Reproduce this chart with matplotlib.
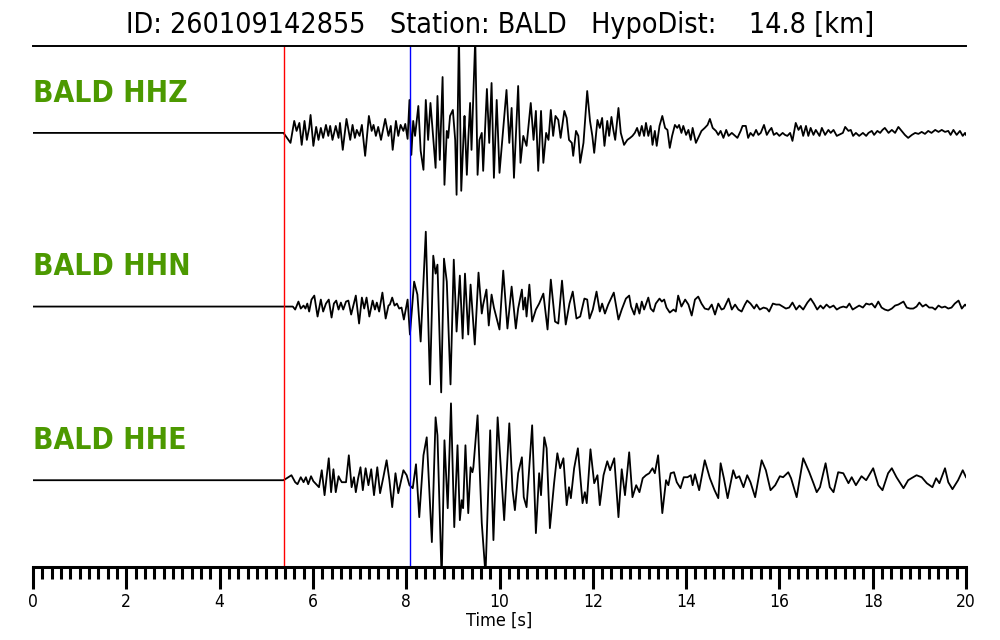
import matplotlib.pyplot as plt
import numpy as np
from matplotlib.ticker import MultipleLocator

# event info
event_id = '260109142855'
station = 'BALD'
hypo_dist = 14.8
channels = ['HHZ', 'HHN', 'HHE']
p_pick = 5.38  # s
s_pick = 8.09  # s

# traces: (time [s], amplitude [counts])
hhz = [(0.00, 0), (5.37, 0), (5.52, -10), (5.60, 12), (5.65, 2), (5.71, 10), (5.76, -12), (5.82, 12),
       (5.87, -7), (5.92, 5), (5.95, 18), (6.01, -13), (6.07, 6), (6.12, -7), (6.17, 5), (6.22, -5),
       (6.28, 8), (6.33, -3), (6.37, 7), (6.42, -7), (6.49, 7), (6.55, -5), (6.58, 10), (6.64, -17),
       (6.72, 14), (6.80, -7), (6.85, 8), (6.90, -5), (6.94, 3), (7.00, -3), (7.05, 8), (7.12, -23),
       (7.20, 17), (7.26, 2), (7.30, 8), (7.35, -3), (7.40, 6), (7.46, -7), (7.55, 14), (7.62, -3),
       (7.67, 7), (7.71, -17), (7.78, 12), (7.83, -3), (7.88, 8), (7.94, 2), (7.98, 9), (8.03, -6),
       (8.07, 33), (8.11, -22), (8.15, 12), (8.19, -3), (8.26, 27), (8.31, -18), (8.37, -37), (8.42, 33),
       (8.47, -7), (8.52, 30), (8.58, -5), (8.63, -35), (8.67, 37), (8.72, -27), (8.78, 56), (8.82, -52),
       (8.87, 2), (8.90, -5), (8.94, 17), (9.00, 23), (9.05, -7), (9.08, -62), (9.13, 100), (9.18, -58),
       (9.23, -2), (9.25, 17), (9.30, -42), (9.33, -7), (9.37, 30), (9.40, -17), (9.48, 95), (9.53, -42),
       (9.57, -7), (9.62, 0), (9.65, -38), (9.73, 44), (9.78, -10), (9.83, 50), (9.88, -45), (9.94, 33),
       (10.00, -40), (10.15, 43), (10.21, -10), (10.26, 25), (10.31, -45), (10.40, 47), (10.45, -30),
       (10.51, -3), (10.58, -13), (10.67, 30), (10.73, -7), (10.78, 22), (10.83, -38), (10.89, 22),
       (10.94, -30), (11.00, 0), (11.05, -7), (11.10, 23), (11.15, -3), (11.20, 17), (11.26, 13),
       (11.31, -5), (11.39, 22), (11.44, 15), (11.49, -7), (11.55, -10), (11.58, -23), (11.64, 2),
       (11.69, -3), (11.73, -30), (11.80, -10), (11.88, 42), (11.94, 12), (11.99, -3), (12.03, -20),
       (12.10, 13), (12.15, 5), (12.20, 15), (12.25, -13), (12.31, 12), (12.35, -3), (12.40, 16),
       (12.44, 3), (12.48, -7), (12.55, 25), (12.60, 0), (12.67, -12), (12.74, -7), (12.80, -5),
       (12.85, -3), (12.90, 0), (12.95, 5), (13.00, -3), (13.05, 7), (13.10, -3), (13.14, 10),
       (13.19, -3), (13.24, 7), (13.28, -12), (13.33, 2), (13.37, -13), (13.43, 7), (13.49, 17),
       (13.55, 5), (13.60, 3), (13.65, -15), (13.70, -3), (13.76, 8), (13.81, 5), (13.85, 8), (13.90, 0),
       (13.94, 7), (14.00, -2), (14.05, 3), (14.10, -7), (14.14, 5), (14.21, -10), (14.26, -5),
       (14.33, 2), (14.40, 5), (14.46, 8), (14.51, 14), (14.57, 5), (14.64, 2), (14.69, -2), (14.74, 2),
       (14.80, -5), (14.86, 3), (14.91, -3), (14.98, 0), (15.05, -3), (15.10, -5), (15.17, 2),
       (15.21, 7), (15.28, 7), (15.33, -5), (15.38, 0), (15.44, -3), (15.50, 3), (15.55, -2), (15.60, 0),
       (15.67, 8), (15.73, -2), (15.78, 2), (15.83, 5), (15.88, -2), (15.94, 0), (16.00, -3), (16.07, 0),
       (16.12, -2), (16.17, -3), (16.23, 0), (16.28, -8), (16.35, 10), (16.41, 3), (16.46, 7),
       (16.51, -3), (16.57, 7), (16.62, -3), (16.67, 5), (16.73, -2), (16.78, 3), (16.86, -3),
       (16.91, 5), (16.98, -2), (17.05, 3), (17.10, 0), (17.16, 3), (17.23, -3), (17.36, 0), (17.41, 6),
       (17.48, 2), (17.53, 3), (17.58, -3), (17.64, 0), (17.71, -3), (17.79, 0), (17.86, -3), (17.91, 0),
       (17.98, 2), (18.03, -2), (18.10, 2), (18.16, 0), (18.21, 3), (18.26, 5), (18.34, 0), (18.41, 3),
       (18.48, 0), (18.55, 6), (18.62, 2), (18.69, -2), (18.76, -5), (18.84, -2), (18.91, 0),
       (18.98, -1), (19.05, 1), (19.12, -1), (19.19, 2), (19.26, 0), (19.34, 3), (19.41, 1), (19.48, 3),
       (19.55, 1), (19.62, 2), (19.67, -2), (19.73, 3), (19.80, -2), (19.87, 2), (19.93, -3), (19.98, 0),
       (20.00, -2)]

hhn = [(0.00, 0), (5.57, 0), (5.62, -3), (5.69, 5), (5.74, -2), (5.80, 1), (5.84, -2), (5.88, 3),
       (5.92, -5), (5.97, 7), (6.03, 11), (6.10, -10), (6.17, 7), (6.22, -5), (6.28, 3), (6.34, 7),
       (6.40, -11), (6.45, 3), (6.50, 6), (6.55, -3), (6.60, 4), (6.65, -3), (6.71, 5), (6.76, 6),
       (6.82, -8), (6.92, 11), (6.99, -17), (7.05, 9), (7.10, -2), (7.15, 9), (7.21, -10), (7.28, 6),
       (7.33, -3), (7.37, 4), (7.42, -5), (7.49, 14), (7.56, -12), (7.62, 1), (7.65, 2), (7.70, 9),
       (7.75, 1), (7.80, 3), (7.85, -2), (7.90, -1), (7.95, -13), (8.03, 7), (8.08, -28), (8.17, 25),
       (8.24, 12), (8.31, -35), (8.42, 75), (8.51, -78), (8.58, 51), (8.63, 33), (8.67, 42), (8.75, -86),
       (8.81, 48), (8.87, 25), (8.95, -78), (9.02, 47), (9.08, -25), (9.15, 31), (9.21, -32), (9.26, 33),
       (9.33, -28), (9.38, 22), (9.47, -38), (9.55, 34), (9.62, -7), (9.65, 2), (9.72, 17), (9.77, -19),
       (9.83, 12), (9.88, -1), (10.00, -23), (10.08, 36), (10.17, -22), (10.26, 20), (10.35, -22),
       (10.40, -2), (10.48, 17), (10.51, -3), (10.55, 9), (10.58, -10), (10.64, 22), (10.70, -15),
       (10.78, -3), (10.85, 3), (10.94, 13), (11.03, -23), (11.10, 27), (11.19, -15), (11.26, -17),
       (11.34, 26), (11.42, -18), (11.50, 3), (11.57, 15), (11.65, -12), (11.73, -10), (11.82, 8),
       (11.88, 7), (11.93, -12), (12.00, -3), (12.08, 15), (12.15, -5), (12.20, 3), (12.26, -7),
       (12.33, 2), (12.45, 14), (12.55, -13), (12.62, -3), (12.71, 8), (12.78, 11), (12.82, 0),
       (12.89, -8), (12.94, 3), (13.00, -7), (13.05, 5), (13.10, -3), (13.19, 9), (13.24, -2),
       (13.30, -5), (13.35, 3), (13.43, 8), (13.48, 5), (13.53, 7), (13.58, -1), (13.65, -6),
       (13.73, -3), (13.78, -5), (13.83, 11), (13.90, 0), (13.98, 7), (14.05, 2), (14.12, -9),
       (14.19, 7), (14.26, 10), (14.33, 3), (14.40, -2), (14.48, -3), (14.55, 2), (14.62, -8),
       (14.69, 3), (14.76, -3), (14.81, -2), (14.91, 8), (14.98, -3), (15.05, 2), (15.12, -3),
       (15.19, -5), (15.26, 2), (15.31, 6), (15.38, 3), (15.46, -2), (15.51, 2), (15.58, -3),
       (15.66, -1), (15.73, -2), (15.78, -5), (15.86, 3), (15.93, 2), (16.00, 2), (16.07, 0),
       (16.14, -2), (16.21, -1), (16.28, 4), (16.36, -3), (16.43, 1), (16.51, -3), (16.60, 4),
       (16.67, 8), (16.74, 3), (16.81, -3), (16.88, 1), (16.94, -2), (17.01, 2), (17.08, -1),
       (17.16, 1), (17.23, -3), (17.30, -1), (17.37, 0), (17.44, -1), (17.50, 3), (17.57, -3),
       (17.64, -1), (17.71, 1), (17.79, -1), (17.86, 3), (17.93, 2), (17.98, 3), (18.05, -1),
       (18.12, 5), (18.19, -1), (18.26, -3), (18.33, -4), (18.41, -2), (18.48, 1), (18.55, 2),
       (18.66, 5), (18.73, -1), (18.80, -2), (18.87, -2), (18.94, 0), (19.00, 4), (19.07, 0),
       (19.14, 2), (19.21, -1), (19.28, -1), (19.34, -3), (19.41, 1), (19.48, -1), (19.55, 0),
       (19.62, -2), (19.69, -1), (19.76, 3), (19.84, 6), (19.91, -2), (19.98, 2), (20.00, 1)]

hhe = [(0.00, 0), (5.37, 0), (5.44, 2), (5.54, 5), (5.62, -2), (5.67, -4), (5.74, 3), (5.80, -2),
       (5.85, 3), (5.90, -4), (5.96, 4), (6.01, -1), (6.13, -7), (6.19, 10), (6.25, -15), (6.34, 22),
       (6.39, -12), (6.44, 11), (6.49, -12), (6.55, 4), (6.58, 1), (6.62, -2), (6.71, -2), (6.77, 25),
       (6.83, -7), (6.88, 3), (6.92, -12), (6.97, 2), (7.02, 13), (7.07, -10), (7.13, 12), (7.19, -5),
       (7.25, 11), (7.31, -15), (7.38, 13), (7.44, -13), (7.51, 3), (7.58, 20), (7.64, 0), (7.70, -27),
       (7.77, 7), (7.83, -13), (7.94, 10), (8.01, 5), (8.07, -5), (8.14, -8), (8.21, 16), (8.28, -37),
       (8.37, 25), (8.44, 43), (8.55, -62), (8.63, 63), (8.67, 45), (8.76, -100), (8.82, 40),
       (8.89, -28), (8.96, 77), (9.03, -47), (9.10, 35), (9.15, -40), (9.19, -20), (9.22, -28),
       (9.27, 35), (9.33, -33), (9.38, 13), (9.42, 8), (9.44, 13), (9.53, 65), (9.62, -43), (9.70, -95),
       (9.80, 50), (9.87, -60), (9.96, 63), (10.10, -40), (10.21, 57), (10.28, -10), (10.33, -30),
       (10.40, 7), (10.48, 23), (10.52, -17), (10.58, -27), (10.70, 55), (10.78, -53), (10.85, 7),
       (10.89, -15), (10.96, 43), (11.01, 32), (11.08, -48), (11.17, -3), (11.24, 27), (11.30, 12),
       (11.37, 22), (11.44, -25), (11.49, -7), (11.53, -18), (11.60, 12), (11.68, 32), (11.78, -23),
       (11.83, -12), (11.87, -23), (11.95, 31), (12.03, -3), (12.10, 5), (12.15, -25), (12.23, 5),
       (12.31, 19), (12.37, 10), (12.46, 22), (12.55, -37), (12.62, 11), (12.69, -15), (12.78, 28),
       (12.85, -17), (12.93, -5), (13.00, -12), (13.07, 2), (13.14, 5), (13.21, 7), (13.28, 12),
       (13.33, 7), (13.40, 25), (13.49, -33), (13.57, 0), (13.62, -5), (13.67, 7), (13.74, 8),
       (13.80, -2), (13.88, -8), (13.95, 3), (14.03, 3), (14.10, 5), (14.14, -5), (14.19, 6),
       (14.28, -10), (14.40, 20), (14.51, 2), (14.61, -10), (14.69, -18), (14.74, 17), (14.81, 2),
       (14.89, -18), (15.01, 10), (15.07, 2), (15.14, 4), (15.23, -7), (15.31, 5), (15.38, -2),
       (15.48, -17), (15.62, 20), (15.71, 10), (15.81, -10), (15.91, -5), (16.01, 4), (16.08, 3),
       (16.19, 8), (16.25, 2), (16.37, -17), (16.51, 22), (16.64, 8), (16.73, -3), (16.80, -12),
       (16.87, -7), (16.99, 17), (17.08, -7), (17.16, -12), (17.26, 8), (17.37, 7), (17.48, -3),
       (17.55, 3), (17.64, -5), (17.76, 4), (17.86, 0), (18.01, 12), (18.12, -5), (18.21, -10),
       (18.33, 7), (18.41, 12), (18.51, 3), (18.66, -8), (18.76, 0), (18.83, 2), (18.94, 5), (19.05, 3),
       (19.16, -3), (19.28, -7), (19.36, 2), (19.43, -3), (19.55, 12), (19.62, -2), (19.71, -9),
       (19.83, 0), (19.93, 10), (20.00, 3)]

traces = [hhz, hhn, hhe]

fig = plt.figure(figsize=(10, 6.4), dpi=100)
ax = fig.add_axes([0.033, 0.114, 0.933, 0.814])

gain = 1 / 174.0
for i, (chan, tr) in enumerate(zip(channels, traces)):
    t, a = np.array(tr, dtype=float).T
    off = len(channels) - 1 - i
    ax.plot(t, off + a * gain, color='black', lw=1.3, solid_joinstyle='round')
    ax.text(0, off + 0.18, f'{station} {chan}', color='#4c9900', fontsize=21.5,
            fontweight='bold', fontstretch='condensed', ha='left', va='baseline')

ax.axvline(p_pick, color='red', lw=1.0)
ax.axvline(s_pick, color='blue', lw=1.0)

ax.set_xlim(0, 20)
ax.set_ylim(-0.5, 2.5)
ax.set_yticks([])
ax.xaxis.set_major_locator(MultipleLocator(2))
ax.xaxis.set_minor_locator(MultipleLocator(0.2))
ax.tick_params(axis='x', which='major', length=16, width=2.2, pad=3, labelsize=12.5)
ax.tick_params(axis='x', which='minor', length=8.5, width=2.2)
for lab in ax.get_xticklabels():
    lab.set_fontstretch('condensed')
ax.set_xlabel('Time [s]', fontsize=13, fontstretch='condensed', labelpad=0)

ax.spines['left'].set_visible(False)
ax.spines['right'].set_visible(False)
ax.spines['top'].set_linewidth(1.4)
ax.spines['bottom'].set_linewidth(2.2)

fig.text(0.5, 0.961, f'ID: {event_id}   Station: {station}   HypoDist:    {hypo_dist} [km]',
         ha='center', va='center', fontsize=20.5, fontstretch='condensed')

fig.savefig('out.png', dpi=100)
